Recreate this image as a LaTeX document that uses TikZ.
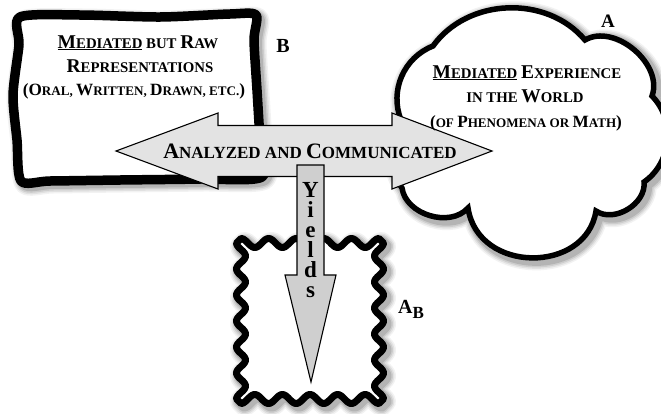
\documentclass[tikz,border=0pt]{standalone}
\usepackage{fontspec}
\setmainfont{Liberation Serif}

% capital / small-capital sizes for the three text groups
\newcommand\CapA{\fontsize{19.5}{22}\selectfont}
\newcommand\SmA{\fontsize{14.8}{22}\selectfont}
\newcommand\CapB{\fontsize{17.2}{20}\selectfont}
\newcommand\SmB{\fontsize{13.1}{20}\selectfont}
\newcommand\CapC{\fontsize{22}{24}\selectfont}
\newcommand\SmC{\fontsize{17}{24}\selectfont}

% outlines of the three regions
\newcommand\framepath{plot[smooth cycle, tension=0.45] coordinates {
  (20,17) (80,15) (160,17) (230,14) (256,15) (254,40) (257,90) (260,140)
  (262,177) (200,179) (120,180) (50,181) (21,181) (17,140) (13,95) (19,45)}}
\newcommand\cloudpath{(401,120) to[bend left=45] (433,46)
  to[bend left=52] (585,40) to[bend left=70] (652,96)
  to[bend left=50] (644,182) to[bend left=65] (596,211)
  .. controls (586,274) and (478,274) .. (468,208) to[bend left=65] (402,188)
  to[bend left=35] (401,120) -- cycle}
\newcommand\stamppath{plot[domain=0:1, samples=101, smooth] ({241+138*\x},{243-4.5*cos(1800*\x)})
  -- plot[domain=0:1, samples=121, smooth] ({379+4.5*cos(2160*\x)},{243+156*\x})
  -- plot[domain=0:1, samples=101, smooth] ({379-138*\x},{399+4.5*cos(1800*\x)})
  -- plot[domain=0:1, samples=121, smooth] ({241-4.5*cos(2160*\x)},{399-156*\x}) -- cycle}

% soft blurred shadow behind an outline
\newcommand\halo[1]{%
  \foreach \w/\o in {19/0.05,16/0.07,13/0.09,10/0.12}{%
    \draw[line width=\w pt, black, opacity=\o, line join=round, shift={(3,3)}] #1;}}

\tikzset{
  heavyframe/.style={line width=9.5pt, line join=round, draw=black, fill=white},
  cloudline/.style={line width=5.5pt, line join=miter, miter limit=4, draw=black, fill=white},
  stampline/.style={line width=7pt, line join=round, draw=black, fill=white},
  blockarrow/.style={draw=black, line width=1.1pt, line join=miter},
  caption/.style={font=\bfseries, inner sep=0pt, anchor=base},
}

\begin{document}
\begin{tikzpicture}[x=1pt, y=-1pt]
\useasboundingbox (0,0) rectangle (661,413);

% shadows
\halo{\framepath}
\halo{\cloudpath}
\halo{\stamppath}

% regions
\draw[heavyframe] \framepath;
\draw[cloudline] \cloudpath;
\draw[stampline] \stamppath;

% double arrow across the top
\draw[blockarrow, fill=black!11] (116,151) -- (218,113) -- (218,125.5) -- (392,125.5)
  -- (392,113) -- (492,151) -- (392,189) -- (392,176.5) -- (218,176.5) -- (218,189) -- cycle;

% downward arrow
\draw[blockarrow, fill=black!19] (297,165) -- (324,165) -- (324,275) -- (336,275)
  -- (311,382) -- (285,275) -- (297,275) -- cycle;

% text of the raw representations frame
\node[caption] (b1) at (138,48) {\underline{{\CapA M}{\SmA EDIATED}}{\SmA{} BUT }{\CapA R}{\SmA AW}};
\node[caption] (b2) at (140,72) {{\CapA R}{\SmA EPRESENTATIONS}};
\node[caption] (b3) at (134,95) {{\CapB (O}{\SmB RAL, }{\CapB W}{\SmB RITTEN, }{\CapB D}{\SmB RAWN, ETC.}{\CapB )}};

% text of the experience cloud
\node[caption] (a1) at (527,78) {\underline{{\CapA M}{\SmA EDIATED}}{\SmA{} }{\CapA E}{\SmA XPERIENCE}};
\node[caption] (a2) at (525,102) {{\SmA IN THE }{\CapA W}{\SmA ORLD}};
\node[caption] (a3) at (526,127) {{\CapB (}{\SmB OF }{\CapB P}{\SmB HENOMENA OR }{\CapB M}{\SmB ATH}{\CapB )}};

% arrow labels
\node[caption] (hlabel) at (310,158) {{\CapC A}{\SmC NALYZED AND }{\CapC C}{\SmC OMMUNICATED}};
\node[font=\bfseries\fontsize{23}{20}\selectfont, align=center, inner sep=0pt, anchor=north]
  (yields) at (310.5,182) {Y\\i\\e\\l\\d\\s};

% region letters
\node[caption] (labB) at (283,52) {\fontsize{20}{20}\selectfont B};
\node[caption] (labA) at (608,27) {\fontsize{19}{19}\selectfont A};
\node[caption, anchor=base west] (labAB) at (398,313) {\fontsize{20}{20}\selectfont A\raisebox{-5pt}{\fontsize{17}{17}\selectfont B}};
\end{tikzpicture}
\end{document}
